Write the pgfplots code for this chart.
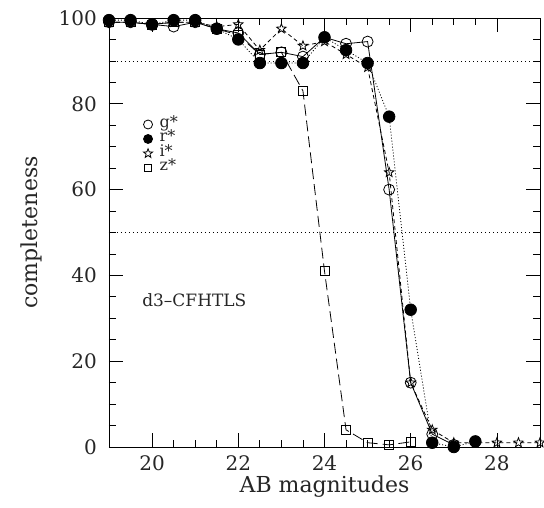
\documentclass[border=0pt]{standalone}
\usepackage{pgfplots}
\pgfplotsset{compat=1.18}
\usepackage{pgfplotstable}
\usepackage{fontspec}
\setmainfont{DejaVu Serif}
\usetikzlibrary{plotmarks}

\pgfdeclareplotmark{ostar}{%
  \pgfpathmoveto{\pgfpointpolar{90}{\pgfplotmarksize}}%
  \pgfpathlineto{\pgfpointpolar{126}{0.42\pgfplotmarksize}}%
  \pgfpathlineto{\pgfpointpolar{162}{\pgfplotmarksize}}%
  \pgfpathlineto{\pgfpointpolar{198}{0.42\pgfplotmarksize}}%
  \pgfpathlineto{\pgfpointpolar{234}{\pgfplotmarksize}}%
  \pgfpathlineto{\pgfpointpolar{270}{0.42\pgfplotmarksize}}%
  \pgfpathlineto{\pgfpointpolar{306}{\pgfplotmarksize}}%
  \pgfpathlineto{\pgfpointpolar{342}{0.42\pgfplotmarksize}}%
  \pgfpathlineto{\pgfpointpolar{18}{\pgfplotmarksize}}%
  \pgfpathlineto{\pgfpointpolar{54}{0.42\pgfplotmarksize}}%
  \pgfpathclose
  \pgfusepathqstroke
}

\pgfplotstableread{
m c
19 99
19.5 99
20 98.5
20.5 98
21 99
21.5 97.5
22 96.5
22.5 91.5
23 92
23.5 91
24 95.5
24.5 94
25 94.5
25.5 60
26 15
26.5 3
27 0.5
}\gdata
\pgfplotstableread{
m c
19 99.5
19.5 99.5
20 98.5
20.5 99.5
21 99.5
21.5 97.5
22 95
22.5 89.5
23 89.5
23.5 89.5
24 95.5
24.5 92.5
25 89.5
25.5 77
26 32
26.5 1
27 0
27.5 1.3
}\rdata
\pgfplotstableread{
m c
19 99
19.5 99
20 98.5
20.5 99
21 99
21.5 98
22 98.5
22.5 92.5
23 97.5
23.5 93.5
24 94.5
24.5 91.5
25 88.5
25.5 64
26 15
26.5 4
27 1
27.5 1
28 1
28.5 1
29 1
}\idata
\pgfplotstableread{
m c
19 99
19.5 99
20 98.5
20.5 99
21 99
21.5 97.5
22 96
22.5 91.5
23 92
23.5 83
24 41
24.5 4
25 1
25.5 0.5
26 1.2
}\zdata

\begin{document}
\begin{tikzpicture}
\begin{axis}[
  scale only axis, width=431pt, height=429pt,
  xmin=19, xmax=29, ymin=0, ymax=100,
  xtick={20,22,...,28}, ytick={0,20,...,100},
  minor x tick num=3, minor y tick num=3,
  tick align=inside, major tick length=14pt, minor tick length=7pt,
  tick style={black, line width=0.7pt},
  axis line style={black, line width=0.9pt},
  /pgf/number format/assume math mode=true,
  ticklabel style={font=\fontsize{20}{24}\selectfont, text=black!85},
  xticklabel style={inner sep=0pt, anchor=north, yshift=-8pt},
  yticklabel style={inner sep=0pt, anchor=east, xshift=-12pt},
  xlabel={AB magnitudes}, ylabel={completeness},
  label style={font=\fontsize{22}{26}\selectfont, text=black!85},
  xlabel style={at={(axis description cs:0.5,-0.093)}, anchor=center},
  ylabel style={at={(axis description cs:-0.181,0.5)}, anchor=center},
  legend style={draw=none, fill=none, inner sep=0pt, outer sep=0pt,
    at={(axis cs:19.8,76.4)}, anchor=north west,
    font=\fontsize{16}{18}\selectfont, text=black!85,
    nodes={inner sep=0pt, text height=8pt, text depth=2.5pt, anchor=west},
    /tikz/row sep=4pt, /tikz/column sep=7pt},
  legend image code/.code={\draw[#1] plot[only marks] coordinates {(0pt,0pt)};},
]
\addplot[black, line width=0.6pt, dash pattern=on 1pt off 3pt, forget plot] coordinates {(19,90) (29,90)};
\addplot[black, line width=0.6pt, dash pattern=on 1pt off 3pt, forget plot] coordinates {(19,50) (29,50)};

\addplot[black, line width=0.8pt, mark=o, mark size=5.5pt, mark options={solid, line width=0.8pt},
  legend image post style={mark size=4.5pt}] table[x=m, y=c] {\gdata};
\addlegendentry{g*}
\addplot[black, line width=0.8pt, dash pattern=on 1pt off 2pt, mark=*, mark size=5.8pt, mark options={solid},
  legend image post style={mark size=4.5pt}] table[x=m, y=c] {\rdata};
\addlegendentry{r*}
\addplot[black, line width=0.8pt, dash pattern=on 4pt off 3pt, mark=ostar, mark size=5pt, mark options={solid, line width=0.8pt},
  legend image post style={mark size=4.8pt}] table[x=m, y=c] {\idata};
\addlegendentry{i*}
\addplot[black, line width=0.8pt, dash pattern=on 11pt off 5pt, mark=square, mark size=4.5pt, mark options={solid, line width=0.8pt},
  legend image post style={mark size=3.6pt}] table[x=m, y=c] {\zdata};
\addlegendentry{z*}

\node[font=\fontsize{17}{20}\selectfont, text=black!85, anchor=center] at (axis cs:20.98,34.3) {d3--CFHTLS};
\end{axis}
\pgfresetboundingbox
\path (current axis.south west) ++(-109pt,-61pt) rectangle ++(544pt,508pt);
\end{tikzpicture}
\end{document}
